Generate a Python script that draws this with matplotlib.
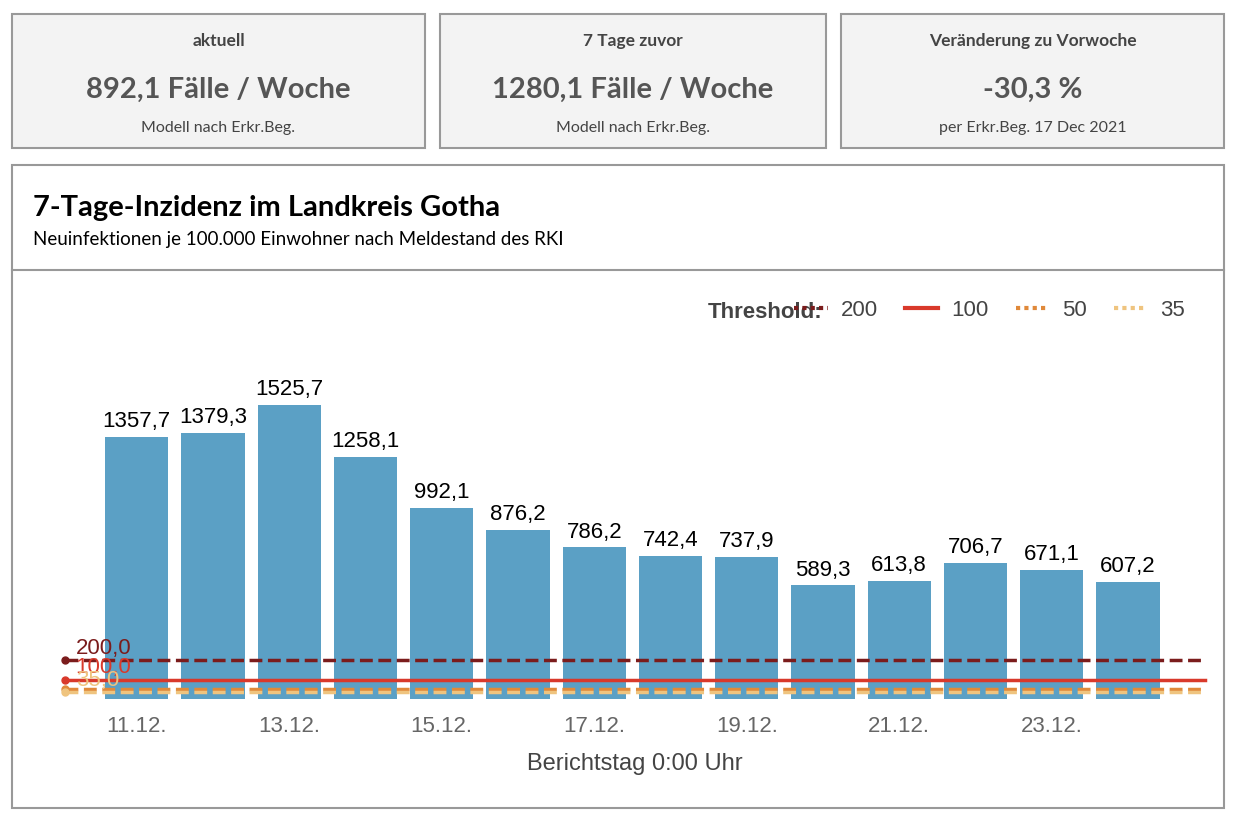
import matplotlib.pyplot as plt
from matplotlib.patches import Rectangle
from matplotlib.lines import Line2D

dates = ["11.12.", "12.12.", "13.12.", "14.12.", "15.12.", "16.12.", "17.12.",
         "18.12.", "19.12.", "20.12.", "21.12.", "22.12.", "23.12.", "24.12."]
values = [1357.7, 1379.3, 1525.7, 1258.1, 992.1, 876.2, 786.2,
          742.4, 737.9, 589.3, 613.8, 706.7, 671.1, 607.2]
thresholds = [200, 100, 50, 35]
thr_colors = ["#7b1c1c", "#d9392b", "#e0893a", "#efc47f"]
thr_styles = ["--", "-", "--", "--"]

card_titles = ["aktuell", "7 Tage zuvor", "Veränderung zu Vorwoche"]
card_values = ["892,1 Fälle / Woche", "1280,1 Fälle / Woche", "-30,3 %"]
card_notes = ["Modell nach Erkr.Beg.", "Modell nach Erkr.Beg.", "per Erkr.Beg. 17 Dec 2021"]

W, H = 1233, 823
plt.rcParams["font.family"] = ["Lato", "DejaVu Sans"]
CF = "Liberation Sans"
fig = plt.figure(figsize=(W / 100, H / 100), dpi=100)


def px(x, y):
    return x / W, 1 - y / H


def box(x0, y0, x1, y1, fc):
    fig.patches.append(Rectangle(px(x0, y1), (x1 - x0) / W, (y1 - y0) / H,
                                 transform=fig.transFigure, fc=fc, ec="#999999", lw=1.5))


cards = [(12, 425), (440, 826), (841, 1224)]
for (x0, x1), t, v, n in zip(cards, card_titles, card_values, card_notes):
    box(x0, 14, x1, 148, "#f3f3f3")
    cx = (x0 + x1) / 2
    fig.text(*px(cx, 41), t, ha="center", va="center", fontsize=12.5, weight="bold", color="#444444")
    fig.text(*px(cx, 90), v, ha="center", va="center", fontsize=21, weight="bold", color="#555555")
    fig.text(*px(cx, 128), n, ha="center", va="center", fontsize=11.5, color="#444444")

box(12, 165, 1224, 808, "white")
fig.add_artist(Line2D([12 / W, 1224 / W], [1 - 270 / H] * 2, color="#999999", lw=1.5))
fig.text(*px(33, 208), "7-Tage-Inzidenz im Landkreis Gotha", fontsize=21, weight="bold", va="center")
fig.text(*px(33, 240), "Neuinfektionen je 100.000 Einwohner nach Meldestand des RKI", fontsize=13.5, va="center")

l, b = px(65, 699)
r, t = px(1205, 290)
ax = fig.add_axes([l, b, r - l, t - b])
ax.set_zorder(2)
x = range(len(values))
ax.bar(x, values, width=0.83, color="#5ba0c5", zorder=1)
for i, v in zip(x, values):
    ax.text(i, v + 25, f"{v:.1f}".replace(".", ","), ha="center", va="bottom", fontsize=16,
            family=CF)
for th, c, s in zip(thresholds, thr_colors, thr_styles):
    ax.plot([-0.94, 14.01], [th, th], color=c, ls=s, lw=2.5, zorder=3, clip_on=False)
    ax.plot(-0.94, th, "o", color=c, ms=5, zorder=4, clip_on=False)
for th, c in zip([200, 100, 35], [thr_colors[0], thr_colors[1], thr_colors[3]]):
    ax.text(-0.8, th + 8, f"{th:.1f}".replace(".", ","), color=c, fontsize=16,
            family=CF, va="bottom", zorder=5)
ax.set_xlim(-0.94, 14.01)
ax.set_ylim(0, 2122)
ax.set_xticks(list(x)[::2])
ax.set_xticklabels(dates[::2], fontsize=16, color="#666666", family=CF)
ax.tick_params(length=0, pad=12)
ax.set_yticks([])
for sp in ax.spines.values():
    sp.set_visible(False)
ax.set_xlabel("Berichtstag 0:00 Uhr", fontsize=17, color="#444444", family=CF, labelpad=12)

handles = [Line2D([], [], color=c, ls=((0, (1, 1)) if s == "--" else "-"), lw=3)
           for c, s in zip(thr_colors, thr_styles)]
fig.legend(handles, [str(t) for t in thresholds], loc="center right",
           bbox_to_anchor=px(1205, 310), ncol=4, frameon=False,
           handlelength=1.5, handletextpad=0.6, columnspacing=1.2, labelcolor="#444444",
           prop={"family": CF, "size": 16})
fig.text(*px(822, 312), "Threshold:", ha="right", va="center", fontsize=16, weight="bold",
         color="#444444", family=CF)

fig.savefig("out.png", dpi=100)
